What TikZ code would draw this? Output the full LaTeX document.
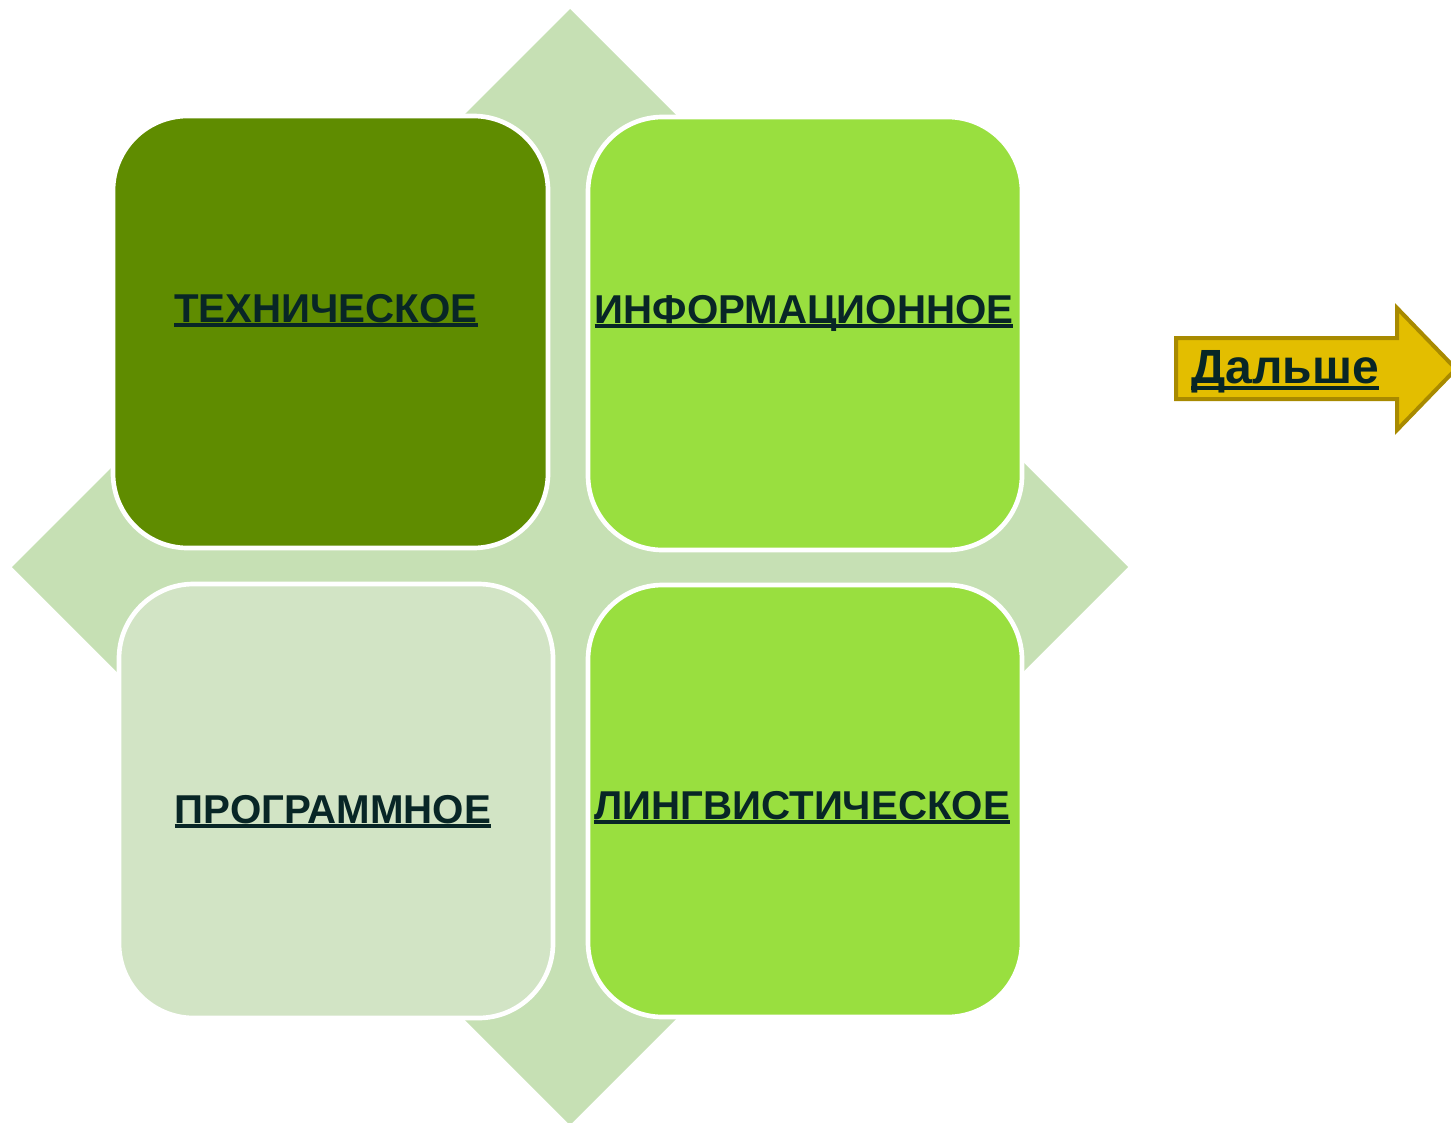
\documentclass[tikz,border=0pt]{standalone}
\usepackage{fontspec}
\setmainfont{Liberation Sans}
\definecolor{diam}{HTML}{C6E0B4}
\definecolor{dkgreen}{HTML}{5F8C00}
\definecolor{ltgreen}{HTML}{99DF3F}
\definecolor{pale}{HTML}{D2E4C5}
\definecolor{txt}{HTML}{082626}
\definecolor{gold}{HTML}{E3BE00}
\definecolor{goldedge}{HTML}{A88A00}
\newcommand\myul[2][4pt]{\setbox0\hbox{#2}\rlap{\color{txt}\rule[-#1]{\wd0}{3pt}}\box0}
\tikzset{
  tile/.style={draw=white, line width=3.5pt, rounded corners=56pt},
  lbl/.style={anchor=base, text=txt, inner sep=0pt, font=\bfseries\fontsize{30.2pt}{32pt}\selectfont},
}
\begin{document}
\begin{tikzpicture}[x=0.75pt,y=-0.75pt]
\useasboundingbox (0,0) rectangle (1451,1123);
\begin{scope}
\clip (0,0) rectangle (1451,1123);
% background diamond
\fill[diam] (570,9) -- (1128,567) -- (570,1125) -- (12,567) -- cycle;
% tiles
\path[tile, fill=dkgreen] (113,116) rectangle (548,548);
\path[tile, fill=ltgreen] (588,117) rectangle (1022,550);
\path[tile, fill=pale] (119,584) rectangle (553,1018);
\path[tile, fill=ltgreen] (588,585) rectangle (1022,1017);
% labels
\node[lbl] (tech) at (326,322) {\myul{ТЕХНИЧЕСКОЕ}};
\node[lbl] (info) at (804,323) {\myul{ИНФОРМАЦИОННОЕ}};
\node[lbl] (prog) at (333,823) {\myul{ПРОГРАММНОЕ}};
\node[lbl] (ling) at (802,819) {\myul{ЛИНГВИСТИЧЕСКОЕ}};
% arrow
\draw[goldedge, fill=gold, line width=3pt, line join=miter]
  (1176,338) -- (1397,338) -- (1397,308) -- (1456,369) -- (1397,430) -- (1397,399) -- (1176,399) -- cycle;
\node[anchor=base, text=txt, inner sep=0pt, font=\bfseries\fontsize{36pt}{38pt}\selectfont] (next) at (1285,383) {\myul[5pt]{Дальше}};
\end{scope}
\end{tikzpicture}
\end{document}
